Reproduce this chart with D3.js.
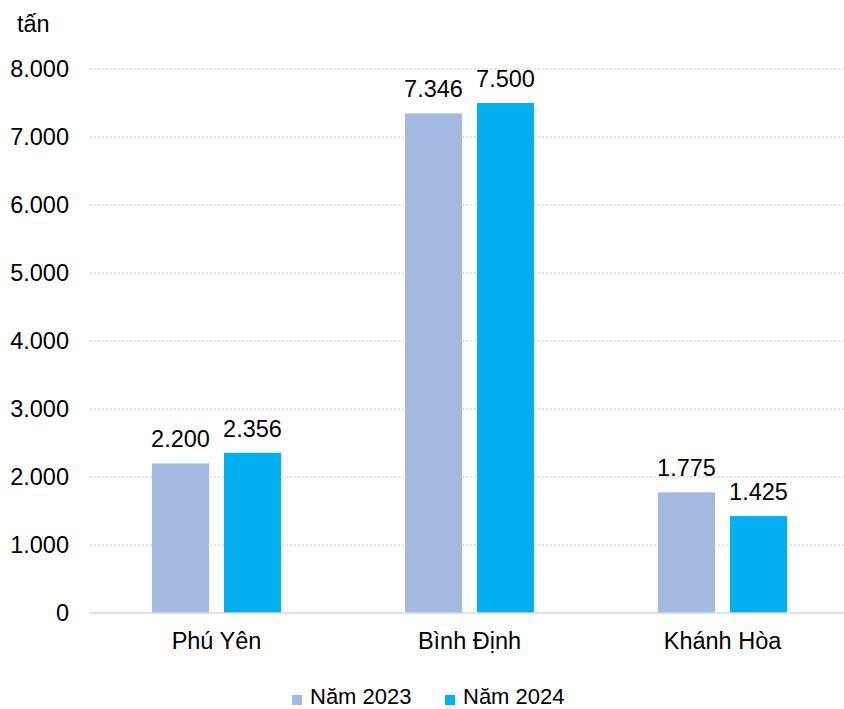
<!DOCTYPE html>
<html><head><meta charset="utf-8">
<script src="https://cdn.jsdelivr.net/npm/d3@7"></script>
<style>
html,body{margin:0;padding:0;background:#fff;}
text{font-family:"Liberation Sans",Arial,sans-serif;fill:#000;}
</style></head>
<body>
<svg id="chart" width="844" height="709"></svg>
<script>
const categories = ["Phú Yên", "Bình Định", "Khánh Hòa"];
const seriesNames = ["Năm 2023", "Năm 2024"];
const values2023 = [2200, 7346, 1775];
const values2024 = [2356, 7500, 1425];
const yTicks = [0, 1000, 2000, 3000, 4000, 5000, 6000, 7000, 8000];
const colors = ["#A4BAE0", "#00B0F0"];
const fs = 23.5;

const svg = d3.select("#chart");
const fmt = v => d3.format(",")(v).replace(/,/g, ".");

const x = d3.scaleBand().domain(categories).range([90, 849]).padding(0);
const y = d3.scaleLinear().domain([0, 8000]).range([613, 69]);
const barW = 57, gap = 15;
const xs = d3.scaleOrdinal().domain(seriesNames).range([-gap/2 - barW, gap/2]);

// gridlines
svg.append("g").selectAll("line").data(yTicks.filter(t => t > 0)).join("line")
  .attr("x1", 90).attr("x2", 844)
  .attr("y1", d => y(d)).attr("y2", d => y(d))
  .attr("stroke", "#c9c9c9").attr("stroke-width", 1).attr("stroke-dasharray", "2,2");

// y labels
svg.append("g").selectAll("text").data(yTicks).join("text")
  .attr("x", 69).attr("y", d => y(d) + 8)
  .attr("text-anchor", "end").attr("font-size", fs)
  .text(d => fmt(d));

svg.append("text").attr("x", 17).attr("y", 32).attr("font-size", fs).text("tấn");

const data = [values2023, values2024];
data.forEach((vals, si) => {
  const g = svg.append("g");
  g.selectAll("rect").data(vals).join("rect")
    .attr("x", (d, i) => x(categories[i]) + x.bandwidth()/2 + xs(seriesNames[si]))
    .attr("y", d => y(d))
    .attr("width", barW)
    .attr("height", d => y(0) - y(d))
    .attr("fill", colors[si]);
  g.selectAll("text").data(vals).join("text")
    .attr("x", (d, i) => x(categories[i]) + x.bandwidth()/2 + xs(seriesNames[si]) + barW/2)
    .attr("y", d => y(d) - 16)
    .attr("text-anchor", "middle").attr("font-size", fs)
    .text(d => fmt(d));
});

// axis line
svg.append("line").attr("x1", 90).attr("x2", 844).attr("y1", y(0)).attr("y2", y(0))
  .attr("stroke", "#d9d9d9").attr("stroke-width", 1.5);

// category labels
svg.append("g").selectAll("text").data(categories).join("text")
  .attr("x", d => x(d) + x.bandwidth()/2).attr("y", 649)
  .attr("text-anchor", "middle").attr("font-size", fs)
  .text(d => d);

// legend
const legX = [292, 445];
seriesNames.forEach((s, i) => {
  svg.append("rect").attr("x", legX[i]).attr("y", 695).attr("width", 10).attr("height", 10).attr("fill", colors[i]);
  svg.append("text").attr("x", legX[i] + 18).attr("y", 704).attr("font-size", 22).text(s);
});
</script>
</body></html>
